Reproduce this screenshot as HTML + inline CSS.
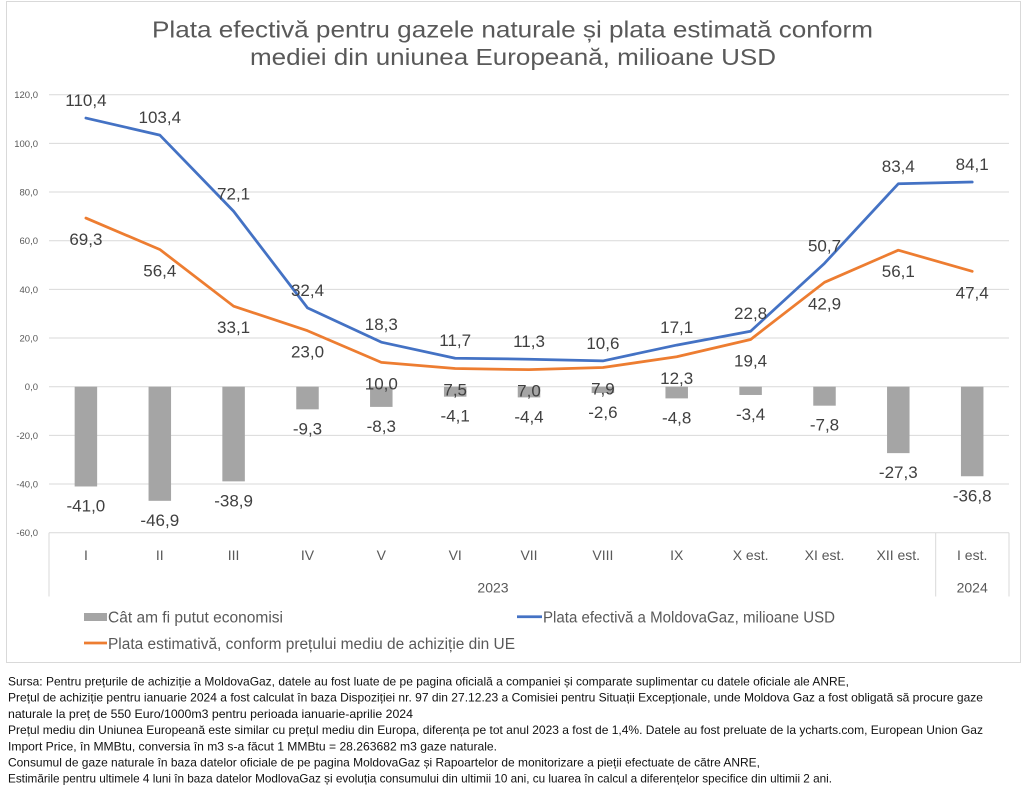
<!DOCTYPE html>
<html>
<head>
<meta charset="utf-8">
<style>
html,body{margin:0;padding:0;background:#fff;}
svg{display:block;}
text{font-family:"Liberation Sans",sans-serif;}
</style>
</head>
<body>
<svg width="1023" height="792" viewBox="0 0 1023 792" xmlns="http://www.w3.org/2000/svg">
<rect x="0" y="0" width="1023" height="792" fill="#fff"/>
<!-- chart border -->
<rect x="6.5" y="1.5" width="1014" height="661" fill="#fff" stroke="#d9d9d9" stroke-width="1"/>

<!-- title -->
<g fill="#595959" font-size="23">
<text x="152" y="37.5" textLength="721" lengthAdjust="spacingAndGlyphs">Plata efectivă pentru gazele naturale și plata estimată conform</text>
<text x="250" y="65" textLength="526" lengthAdjust="spacingAndGlyphs">mediei din uniunea Europeană, milioane USD</text>
</g>

<!-- gridlines -->
<g stroke="#d9d9d9" stroke-width="1">
<line x1="49" x2="1009" y1="94.7" y2="94.7"/>
<line x1="49" x2="1009" y1="143.4" y2="143.4"/>
<line x1="49" x2="1009" y1="192" y2="192"/>
<line x1="49" x2="1009" y1="240.7" y2="240.7"/>
<line x1="49" x2="1009" y1="289.4" y2="289.4"/>
<line x1="49" x2="1009" y1="338" y2="338"/>
<line x1="49" x2="1009" y1="386.7" y2="386.7"/>
<line x1="49" x2="1009" y1="435.4" y2="435.4"/>
<line x1="49" x2="1009" y1="484" y2="484"/>
<line x1="49" x2="1009" y1="532.7" y2="532.7"/>
<line x1="49" x2="49" y1="532.7" y2="596.5"/>
<line x1="935.7" x2="935.7" y1="532.7" y2="596.5"/>
<line x1="1009" x2="1009" y1="532.7" y2="596.5"/>
</g>

<!-- y tick labels -->
<g fill="#595959" font-size="9.5" text-anchor="end">
<text x="38" y="98.1">120,0</text>
<text x="38" y="146.8">100,0</text>
<text x="38" y="195.4">80,0</text>
<text x="38" y="244.1">60,0</text>
<text x="38" y="292.8">40,0</text>
<text x="38" y="341.4">20,0</text>
<text x="38" y="390.1">0,0</text>
<text x="38" y="438.8">-20,0</text>
<text x="38" y="487.4">-40,0</text>
<text x="38" y="536.1">-60,0</text>
</g>

<!-- bars -->
<g fill="#a5a5a5">
<rect x="74.65" y="386.7" width="22.5" height="99.77"/>
<rect x="148.55" y="386.7" width="22.5" height="114.12"/>
<rect x="222.35" y="386.7" width="22.5" height="94.66"/>
<rect x="296.25" y="386.7" width="22.5" height="22.63"/>
<rect x="370.05" y="386.7" width="22.5" height="20.2"/>
<rect x="443.95" y="386.7" width="22.5" height="9.98"/>
<rect x="517.75" y="386.7" width="22.5" height="10.71"/>
<rect x="591.65" y="386.7" width="22.5" height="6.33"/>
<rect x="665.45" y="386.7" width="22.5" height="11.68"/>
<rect x="739.35" y="386.7" width="22.5" height="8.27"/>
<rect x="813.25" y="386.7" width="22.5" height="18.98"/>
<rect x="887.05" y="386.7" width="22.5" height="66.43"/>
<rect x="960.95" y="386.7" width="22.5" height="89.55"/>
</g>

<!-- lines -->
<polyline fill="none" stroke="#ed7d31" stroke-width="2.75" stroke-linejoin="round" stroke-linecap="round"
points="85.9,218.07 159.8,249.46 233.6,306.16 307.5,330.73 381.3,362.37 455.2,368.45 529,369.67 602.9,367.48 676.7,356.77 750.6,339.49 824.5,282.31 898.3,250.19 972.2,271.36"/>
<polyline fill="none" stroke="#4472c4" stroke-width="2.75" stroke-linejoin="round" stroke-linecap="round"
points="85.9,118.06 159.8,135.1 233.6,211.26 307.5,307.86 381.3,342.17 455.2,358.23 529,359.2 602.9,360.91 676.7,345.09 750.6,331.22 824.5,263.33 898.3,183.76 972.2,182.06"/>

<!-- data labels -->
<g fill="#404040" font-size="17" text-anchor="middle">
<!-- blue -->
<text x="85.9" y="106.1">110,4</text>
<text x="159.8" y="123.1">103,4</text>
<text x="233.6" y="199.3">72,1</text>
<text x="307.5" y="295.9">32,4</text>
<text x="381.3" y="330.2">18,3</text>
<text x="455.2" y="346.2">11,7</text>
<text x="529" y="347.2">11,3</text>
<text x="602.9" y="348.9">10,6</text>
<text x="676.7" y="333.1">17,1</text>
<text x="750.6" y="319.2">22,8</text>
<text x="824.5" y="251.3">50,7</text>
<text x="898.3" y="171.8">83,4</text>
<text x="972.2" y="170.1">84,1</text>
<!-- orange -->
<text x="85.9" y="245.1">69,3</text>
<text x="159.8" y="276.5">56,4</text>
<text x="233.6" y="333.2">33,1</text>
<text x="307.5" y="357.7">23,0</text>
<text x="381.3" y="389.4">10,0</text>
<text x="455.2" y="395.5">7,5</text>
<text x="529" y="396.7">7,0</text>
<text x="602.9" y="394.5">7,9</text>
<text x="676.7" y="383.8">12,3</text>
<text x="750.6" y="366.5">19,4</text>
<text x="824.5" y="309.3">42,9</text>
<text x="898.3" y="277.2">56,1</text>
<text x="972.2" y="298.4">47,4</text>
<!-- bars -->
<text x="85.9" y="511.5">-41,0</text>
<text x="159.8" y="525.8">-46,9</text>
<text x="233.6" y="506.4">-38,9</text>
<text x="307.5" y="434.3">-9,3</text>
<text x="381.3" y="431.9">-8,3</text>
<text x="455.2" y="421.7">-4,1</text>
<text x="529" y="422.4">-4,4</text>
<text x="602.9" y="418">-2,6</text>
<text x="676.7" y="423.4">-4,8</text>
<text x="750.6" y="420">-3,4</text>
<text x="824.5" y="430.7">-7,8</text>
<text x="898.3" y="478.1">-27,3</text>
<text x="972.2" y="501.3">-36,8</text>
</g>

<!-- category labels -->
<g fill="#595959" font-size="14" text-anchor="middle">
<text x="85.9" y="560">I</text>
<text x="159.8" y="560">II</text>
<text x="233.6" y="560">III</text>
<text x="307.5" y="560">IV</text>
<text x="381.3" y="560">V</text>
<text x="455.2" y="560">VI</text>
<text x="529" y="560">VII</text>
<text x="602.9" y="560">VIII</text>
<text x="676.7" y="560">IX</text>
<text x="750.6" y="560">X est.</text>
<text x="824.5" y="560">XI est.</text>
<text x="898.3" y="560">XII est.</text>
<text x="972.2" y="560">I est.</text>
<text x="493" y="592.5">2023</text>
<text x="972.2" y="592.5">2024</text>
</g>

<!-- legend -->
<rect x="84" y="613" width="23" height="8" fill="#a5a5a5"/>
<line x1="517" x2="542" y1="616.7" y2="616.7" stroke="#4472c4" stroke-width="2.75"/>
<line x1="84" x2="107" y1="643" y2="643" stroke="#ed7d31" stroke-width="2.75"/>
<g fill="#595959" font-size="15.5">
<text x="108" y="622.5" textLength="175" lengthAdjust="spacingAndGlyphs">Cât am fi putut economisi</text>
<text x="543" y="622.5" textLength="292" lengthAdjust="spacingAndGlyphs">Plata efectivă a MoldovaGaz, milioane USD</text>
<text x="108" y="649" textLength="407" lengthAdjust="spacingAndGlyphs">Plata estimativă, conform prețului mediu de achiziție din UE</text>
</g>

<!-- footnote -->
<g fill="#111" font-size="12">
<text x="8" y="685.5" textLength="841" lengthAdjust="spacingAndGlyphs">Sursa: Pentru prețurile de achiziție a MoldovaGaz, datele au fost luate de pe pagina oficială a companiei și comparate suplimentar cu datele oficiale ale ANRE,</text>
<text x="8" y="701.7" textLength="975" lengthAdjust="spacingAndGlyphs">Prețul de achiziție pentru ianuarie 2024 a fost calculat în baza Dispoziției nr. 97 din 27.12.23 a Comisiei pentru Situații Excepționale, unde Moldova Gaz a fost obligată să procure gaze</text>
<text x="8" y="717.9" textLength="405" lengthAdjust="spacingAndGlyphs">naturale la preț de 550 Euro/1000m3 pentru perioada ianuarie-aprilie 2024</text>
<text x="8" y="734.1" textLength="975" lengthAdjust="spacingAndGlyphs">Prețul mediu din Uniunea Europeană este similar cu prețul mediu din Europa, diferența pe tot anul 2023 a fost de 1,4%. Datele au fost preluate de la ycharts.com, European Union Gaz</text>
<text x="8" y="750.3" textLength="489" lengthAdjust="spacingAndGlyphs">Import Price, în MMBtu, conversia în m3 s-a făcut 1 MMBtu = 28.263682 m3 gaze naturale.</text>
<text x="8" y="766.5" textLength="752" lengthAdjust="spacingAndGlyphs">Consumul de gaze naturale în baza datelor oficiale de pe pagina MoldovaGaz și Rapoartelor de monitorizare a pieții efectuate de către ANRE,</text>
<text x="8" y="782.7" textLength="824" lengthAdjust="spacingAndGlyphs">Estimările pentru ultimele 4 luni în baza datelor ModlovaGaz și evoluția consumului din ultimii 10 ani, cu luarea în calcul a diferențelor specifice din ultimii 2 ani.</text>
</g>
</svg>
</body>
</html>
